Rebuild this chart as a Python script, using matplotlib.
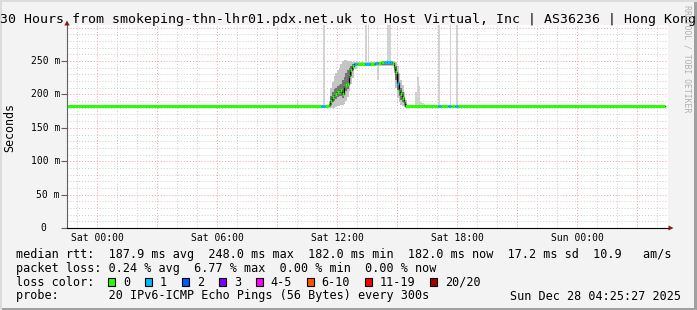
import matplotlib
matplotlib.use('Agg')
import matplotlib.pyplot as plt
from matplotlib.patches import Rectangle, Polygon

# hours relative to Sat 00:00, plot spans Fri 22:30 .. Sun 04:30
x_start = -1.5
x_end = 28.55
data_end = 28.4

# median rtt (ms) as change points, loss = lost pings out of 20
med_t = [-1.5, 11.2, 11.4, 11.583, 11.667, 11.75, 11.833, 11.917, 12.0, 12.083,
         12.167, 12.25, 12.333, 12.417, 12.5, 12.583, 12.667, 12.75, 12.833, 13.0,
         13.4, 13.65, 13.833, 13.9, 14.05, 14.2, 14.35, 14.5, 14.667, 14.75,
         14.833, 14.917, 15.0, 15.083, 15.167, 15.25, 15.333, 15.417, 17.05, 17.2,
         17.55, 17.7, 17.9, 18.05]
med_v = [182, 182, 182, 184, 190, 196, 199, 201, 204, 204,
         206, 200, 212, 214, 216, 228, 237, 242, 245, 245,
         245, 245, 246, 247, 247, 248, 248, 249, 248, 247,
         241, 234, 217, 207, 200, 195, 188, 182, 182, 182,
         182, 182, 182, 182]
med_loss = [0, 1, 0, 0, 0, 0, 0, 0, 0, 0,
            0, 0, 0, 0, 0, 0, 0, 0, 1, 0,
            1, 0, 0, 1, 0, 0, 1, 1, 1, 0,
            0, 0, 1, 0, 0, 0, 0, 0, 1, 0,
            1, 0, 1, 0]

# smoke (ping spread) around the latency step
smoke_t = [11.5, 11.583, 11.667, 11.75, 11.833, 11.917, 12.0, 12.083, 12.167, 12.25,
           12.333, 12.417, 12.5, 12.583, 12.667, 12.75, 12.833, 13.0, 14.75, 14.833,
           14.917, 15.0, 15.083, 15.167, 15.25, 15.333, 15.417, 15.5]
smoke_lo_out = [181, 181, 180, 180, 180, 181, 182, 183, 184, 184,
                186, 190, 196, 205, 215, 225, 238, 243, 243, 232,
                210, 195, 188, 184, 182, 181, 181, 181]
smoke_lo_in = [182, 182, 184, 188, 190, 193, 196, 197, 198, 194,
               202, 205, 208, 220, 228, 236, 242, 244, 244, 236,
               222, 206, 198, 192, 188, 184, 182, 182]
smoke_hi_in = [182, 186, 198, 204, 208, 210, 212, 214, 216, 222,
               226, 232, 236, 240, 243, 246, 247, 247, 249, 246,
               242, 230, 218, 210, 204, 196, 185, 183]
smoke_hi_out = [183, 190, 210, 218, 228, 232, 236, 240, 246, 250,
                251, 251, 250, 250, 250, 249, 249, 249, 250, 249,
                248, 242, 232, 222, 214, 204, 192, 184]

# single-sample outliers (light smoke spikes)
spike_t = [9.983, 11.3, 13.4, 13.533, 14.0, 14.5, 14.6, 15.917, 16.0, 16.083,
           16.167, 16.25, 16.333, 17.05, 17.633, 17.95]
spike_lo = [182, 182, 245, 245, 221, 248, 248, 182, 182, 182,
            182, 182, 182, 182, 182, 182]
spike_hi = [191, 310, 310, 310, 245, 310, 310, 204, 226, 212,
            188, 187, 186, 310, 310, 310]

xtick_pos = [0, 6, 12, 18, 24]
xtick_labels = ['Sat 00:00', 'Sat 06:00', 'Sat 12:00', 'Sat 18:00', 'Sun 00:00']
ytick_pos = [0, 50, 100, 150, 200, 250]
ytick_labels = ['0', '50 m', '100 m', '150 m', '200 m', '250 m']

loss_names = ['0', '1', '2', '3', '4-5', '6-10', '11-19', '20/20']
loss_colors = ['#26ff00', '#00b8ff', '#0059ff', '#7e00ff', '#ff00ff', '#ff5500', '#ff0000', '#a10000']

title = '30 Hours from smokeping-thn-lhr01.pdx.net.uk to Host Virtual, Inc | AS36236 | Hong Kong'
line_rtt = 'median rtt:  187.9 ms avg  248.0 ms max  182.0 ms min  182.0 ms now  17.2 ms sd  10.9   am/s'
line_loss = 'packet loss: 0.24 % avg  6.77 % max  0.00 % min  0.00 % now'
line_probe = 'probe:       20 IPv6-ICMP Echo Pings (56 Bytes) every 300s'
stamp = 'Sun Dec 28 04:25:27 2025'

MONO = 'DejaVu Sans Mono'
W, H = 697, 310

fig = plt.figure(figsize=(W / 100, H / 100), dpi=100, facecolor='#f3f3f3')

def px(x, y):
    # pixel (top-left origin) -> figure fraction
    return x / W, 1 - y / H

# frame
fig.add_artist(Rectangle((0, 0), 1, 2 / H, transform=fig.transFigure, color='#a0a0a0', lw=0))
fig.add_artist(Rectangle((1 - 3 / W, 0), 3 / W, 1, transform=fig.transFigure, color='#a0a0a0', lw=0))
fig.add_artist(Rectangle((0, 1 - 2 / H), 1, 2 / H, transform=fig.transFigure, color='#dcdcdc', lw=0))
fig.add_artist(Rectangle((0, 0), 2 / W, 1, transform=fig.transFigure, color='#dcdcdc', lw=0))

ax = fig.add_axes([67 / W, (H - 228) / H, 601 / W, 203 / H])
ax.set_facecolor('white')
ax.set_xlim(x_start, x_end)
ax.set_ylim(0, 304)

# grid
for h in range(-1, 29):
    if h % 3 == 0:
        ax.axvline(h, color='#eea0a0', lw=0.7, ls=(0, (1, 2)), zorder=0)
    else:
        ax.axvline(h, color='#cccccc', lw=0.7, ls=(0, (1, 2)), zorder=0)
for v in range(10, 301, 10):
    if v % 50 == 0:
        ax.axhline(v, color='#eea0a0', lw=0.7, ls=(0, (1, 2)), zorder=0)
    else:
        ax.axhline(v, color='#cccccc', lw=0.7, ls=(0, (1, 2)), zorder=0)

# smoke
hts = [hi - lo for lo, hi in zip(spike_lo, spike_hi)]
ax.bar(spike_t, hts, bottom=spike_lo, width=1 / 12, align='edge', color='#d2d2d2', lw=0, zorder=1)
ax.fill_between(smoke_t, smoke_lo_out, smoke_hi_out, step='post', color='#c4c4c4', lw=0, zorder=2)
ax.fill_between(smoke_t, smoke_lo_in, smoke_hi_in, step='post', color='#747474', lw=0, zorder=3)

# median: black connectors, then loss coloured segments
ax.step(med_t + [data_end], med_v + [med_v[-1]], where='post', color='black', lw=0.9, zorder=4)
ends = med_t[1:] + [data_end]
for t0, t1, v, l in zip(med_t, ends, med_v, med_loss):
    ax.hlines(v, t0, t1, colors=loss_colors[l], lw=2.2, zorder=5, capstyle='butt')

# axes decoration
for s in ['top', 'right']:
    ax.spines[s].set_visible(False)
ax.spines['left'].set_color('#606060')
ax.spines['bottom'].set_color('black')
ax.set_xticks([])
ax.set_yticks(ytick_pos)
ax.set_yticklabels([])
ax.tick_params(axis='y', length=4, width=0.8, color='#606060')

for p, lab in zip(xtick_pos, xtick_labels):
    ax.text(p, -9.7 / 203, lab, transform=ax.get_xaxis_transform(), ha='center', va='center',
            family=MONO, fontsize=7)
for v, lab in zip(ytick_pos, ytick_labels):
    off = -20.3 / 601 if lab == '0' else -7 / 601
    ax.text(off, v, lab, transform=ax.get_yaxis_transform(), ha='right', va='center',
            family=MONO, fontsize=7)

# arrows
ins = fig.dpi_scale_trans
def arrow(pts):
    fig.add_artist(Polygon([(x / 100, (H - y) / 100) for x, y in pts], closed=True,
                           transform=ins, color='#8b1a1a', lw=0))
arrow([(64.3, 25.5), (69.7, 25.5), (67, 20.5)])
arrow([(668.5, 225.5), (668.5, 230.5), (673.5, 228)])

# texts
fig.text(*px(0.5, 19), title, family=MONO, fontsize=9.55, ha='left', va='center')
fig.text(*px(10, 128), 'Seconds', family=MONO, fontsize=8.4, rotation=90, ha='center', va='center')
fig.text(*px(687.5, 59), 'RRDTOOL / TOBI OETIKER', family=MONO, fontsize=5.9, rotation=270,
         ha='center', va='center', color='#b0b0b0')

fig.text(*px(16, 254.3), line_rtt, family=MONO, fontsize=8.5, ha='left', va='center')
fig.text(*px(16, 268.3), line_loss, family=MONO, fontsize=8.5, ha='left', va='center')
fig.text(*px(16, 282.3), 'loss color:', family=MONO, fontsize=8.5, ha='left', va='center')
fig.text(*px(16, 296), line_probe, family=MONO, fontsize=8.5, ha='left', va='center')
fig.text(*px(681, 296), stamp, family=MONO, fontsize=8.5, ha='right', va='center')

pos = 108
for name, col in zip(loss_names, loss_colors):
    x0, y0 = px(pos, 286)
    fig.add_artist(Rectangle((x0, y0), 7 / W, 8 / H, transform=fig.transFigure,
                             facecolor=col, edgecolor='black', lw=0.8))
    fig.text(*px(pos + 15, 282.3), name, family=MONO, fontsize=8.5, ha='left', va='center')
    pos = pos + 15 + len(name) * 7.1 + 14.8

fig.savefig('out.png', dpi=100, facecolor=fig.get_facecolor())
